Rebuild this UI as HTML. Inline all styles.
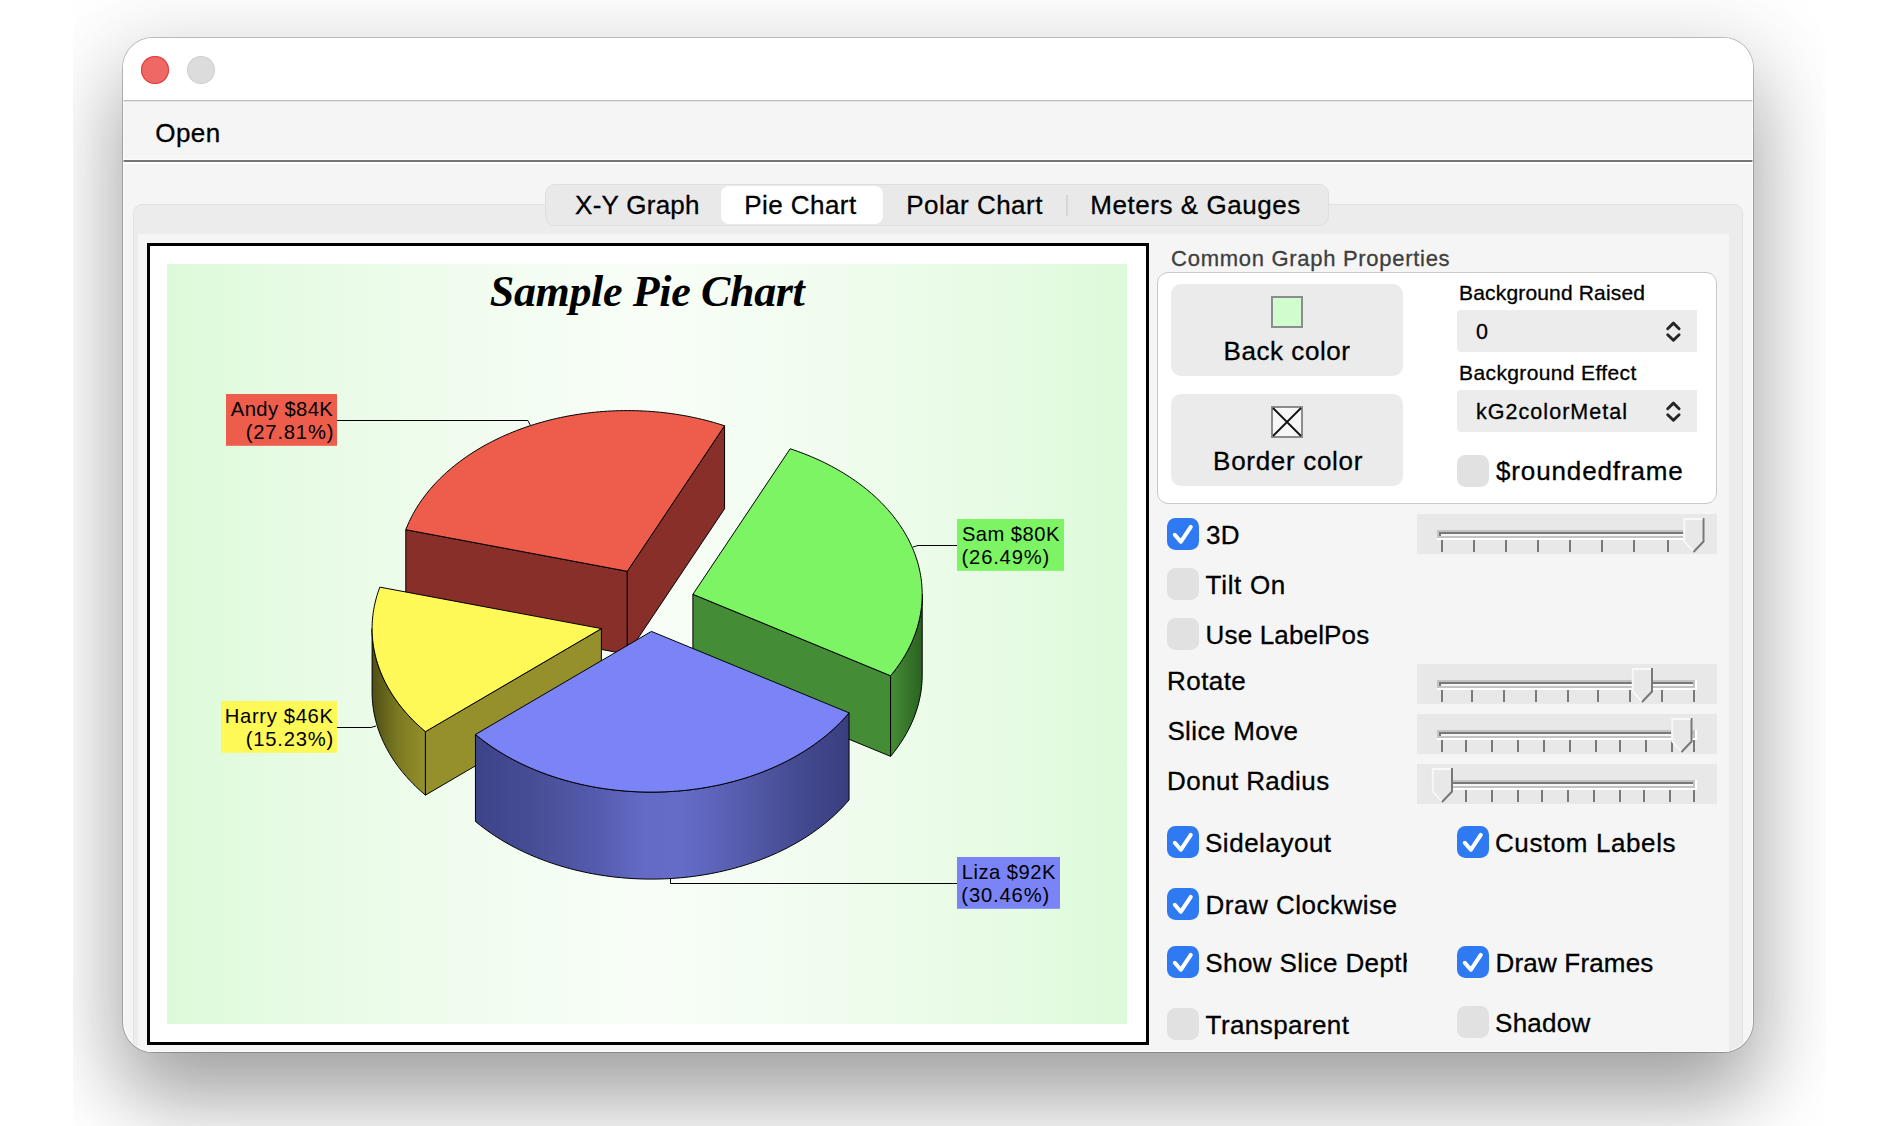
<!DOCTYPE html>
<html><head><meta charset="utf-8"><title>Pie Chart</title>
<style>
html,body{margin:0;padding:0;background:#fff;}
body{width:1900px;height:1126px;position:relative;overflow:hidden;font-family:"Liberation Sans",sans-serif;}
.abs{position:absolute;display:block}
#clip{position:absolute;left:73px;top:0;width:1753px;height:1126px;overflow:hidden}
#win{position:absolute;left:50px;top:38px;width:1630px;height:1014px;border-radius:30px;background:#f5f5f5;
 box-shadow:0 0 0 1px rgba(0,0,0,.22),0 46px 84px rgba(0,0,0,.34),0 8px 80px 30px rgba(0,0,0,.055);}
#inner{position:absolute;left:0;top:0;width:1630px;height:1014px;border-radius:30px;overflow:hidden}
#page{position:absolute;left:-123px;top:-38px;width:1900px;height:1126px}
.t{position:absolute;white-space:nowrap;line-height:normal;-webkit-text-stroke:0.3px currentColor}
.cb{position:absolute;width:32px;height:32px;border-radius:8.5px;background:#e1e1e1;box-sizing:border-box}
.cb.on{background:#2f79f2}
.cb svg{display:block}
.lb{font-family:"Liberation Sans",sans-serif;font-size:20px;fill:#000}
.ttl{font-family:"Liberation Serif",serif;font-size:44px;font-weight:bold;font-style:italic;fill:#000}
.btn{position:absolute;background:#ebebeb;border-radius:10px}
.pop{position:absolute;background:#ececec;border-radius:4px 0 0 4px}
</style></head><body>
<div id="clip"><div id="win"><div id="inner"><div id="page">
<div class="abs" style="left:123px;top:37px;width:1630px;height:63px;background:#fff"></div>
<div class="abs" style="left:123px;top:100px;width:1630px;height:1px;background:#bdbdbd"></div><div class="abs" style="left:123px;top:101px;width:1630px;height:1px;background:#e4e4e4"></div>
<div class="abs" style="left:141px;top:56px;width:28px;height:28px;border-radius:50%;background:#ee6865;box-shadow:inset 0 0 0 1px rgba(228,40,44,.75)"></div>
<div class="abs" style="left:187px;top:56px;width:28px;height:28px;border-radius:50%;background:#dcdcdc;box-shadow:inset 0 0 0 1px rgba(0,0,0,.06)"></div>
<div class="abs" style="left:123px;top:159px;width:1630px;height:1px;background:#fcfcfc"></div><div class="abs" style="left:123px;top:160px;width:1630px;height:2px;background:#757575"></div><div class="abs" style="left:123px;top:162px;width:1630px;height:2px;background:#fff"></div>
<!-- tab content box -->
<div class="abs" style="left:133px;top:204px;width:1610px;height:900px;border-radius:9px;background:#ececec;box-sizing:border-box;border:1px solid #e2e2e2"></div>
<div class="abs" style="left:138px;top:234px;width:1591px;height:900px;background:#f5f5f5"></div>
<!-- segmented -->
<div class="abs" style="left:545px;top:184px;width:784px;height:42px;border-radius:10px;background:#e9e9e9;box-sizing:border-box;border:1px solid #dfdfdf"></div>
<div class="abs" style="left:721px;top:186px;width:162px;height:38px;border-radius:8px;background:#fff"></div>
<div class="abs" style="left:1066px;top:194.5px;width:2px;height:21px;background:#d6d6d6"></div>
<!-- chart -->
<div class="abs" style="left:147px;top:243px;width:1002px;height:802px;box-sizing:border-box;border:3px solid #000;background:#fff"></div>
<div class="abs" style="left:167px;top:264px;width:960px;height:760px;background:linear-gradient(90deg,#dcfad9 0%,#e6fbe3 12%,#f0fcee 30%,#f8fef7 50%,#f0fcee 70%,#e6fbe3 88%,#dcfad9 100%)"></div>
<svg class="abs" style="left:0;top:0" width="1900" height="1126" viewBox="0 0 1900 1126">
<defs><linearGradient id="gG" gradientUnits="userSpaceOnUse" x1="890" y1="0" x2="923" y2="0"><stop offset="0" stop-color="#468e37"/><stop offset="1" stop-color="#2a6120"/></linearGradient><linearGradient id="gB" gradientUnits="userSpaceOnUse" x1="475" y1="0" x2="850" y2="0"><stop offset="0" stop-color="#3d4389"/><stop offset="0.15" stop-color="#474d95"/><stop offset="0.33" stop-color="#555cae"/><stop offset="0.45" stop-color="#636bc6"/><stop offset="0.55" stop-color="#646cc8"/><stop offset="0.68" stop-color="#5960b3"/><stop offset="0.85" stop-color="#464c93"/><stop offset="1" stop-color="#393e7e"/></linearGradient><linearGradient id="gY" gradientUnits="userSpaceOnUse" x1="371" y1="0" x2="426" y2="0"><stop offset="0" stop-color="#4e4d14"/><stop offset="0.5" stop-color="#7c7a22"/><stop offset="1" stop-color="#96912c"/></linearGradient><linearGradient id="gR" gradientUnits="userSpaceOnUse" x1="0" y1="0" x2="1" y2="0"><stop offset="0" stop-color="#8a2f29"/><stop offset="1" stop-color="#8a2f29"/></linearGradient></defs>
<path d="M627.30,571.30 L405.81,529.71 L405.81,612.71 L627.30,654.30 Z" fill="#892f29" stroke="#000" stroke-width="1" stroke-linejoin="round"/>
<path d="M627.30,571.30 L724.57,425.78 L724.57,508.78 L627.30,654.30 Z" fill="#892f29" stroke="#000" stroke-width="1" stroke-linejoin="round"/>
<path d="M627.30,571.30 L405.81,529.71 L406.88,527.00 L408.02,524.31 L409.23,521.63 L410.50,518.97 L411.84,516.32 L413.24,513.69 L414.71,511.08 L416.24,508.49 L417.84,505.91 L419.50,503.36 L421.23,500.83 L423.01,498.31 L424.86,495.82 L426.78,493.36 L428.75,490.91 L430.78,488.49 L432.88,486.10 L435.03,483.73 L437.24,481.39 L439.51,479.08 L441.84,476.80 L444.23,474.54 L446.67,472.31 L449.16,470.12 L451.71,467.95 L454.31,465.82 L456.97,463.71 L459.68,461.65 L462.44,459.61 L465.25,457.61 L468.10,455.64 L471.01,453.71 L473.97,451.81 L476.97,449.96 L480.02,448.13 L483.11,446.35 L486.25,444.60 L489.43,442.90 L492.65,441.23 L495.91,439.60 L499.21,438.01 L502.56,436.46 L505.94,434.95 L509.35,433.49 L512.81,432.07 L516.29,430.69 L519.82,429.35 L523.37,428.05 L526.96,426.80 L530.58,425.60 L534.22,424.44 L537.90,423.32 L541.60,422.25 L545.33,421.22 L549.08,420.24 L552.86,419.30 L556.66,418.42 L560.48,417.57 L564.32,416.78 L568.18,416.03 L572.06,415.33 L575.96,414.68 L579.87,414.08 L583.80,413.52 L587.74,413.01 L591.69,412.55 L595.65,412.14 L599.63,411.77 L603.61,411.46 L607.59,411.19 L611.59,410.98 L615.59,410.81 L619.59,410.69 L623.59,410.62 L627.60,410.60 L631.61,410.63 L635.61,410.71 L639.61,410.83 L643.61,411.01 L647.60,411.23 L651.59,411.50 L655.57,411.83 L659.54,412.20 L663.50,412.62 L667.45,413.08 L671.39,413.60 L675.31,414.16 L679.22,414.77 L683.12,415.43 L687.00,416.14 L690.85,416.90 L694.69,417.70 L698.51,418.55 L702.31,419.44 L706.08,420.38 L709.83,421.37 L713.56,422.40 L717.26,423.48 L720.93,424.61 L724.57,425.78 Z" fill="#ee5c4c" stroke="#000" stroke-width="1" stroke-linejoin="round"/>
<path d="M922.20,594.30 L922.16,597.15 L922.06,599.99 L921.88,602.84 L921.62,605.68 L921.30,608.52 L920.91,611.35 L920.44,614.18 L919.90,617.01 L919.29,619.82 L918.61,622.63 L917.86,625.43 L917.03,628.22 L916.14,630.99 L915.18,633.76 L914.15,636.51 L913.04,639.26 L911.87,641.98 L910.63,644.69 L909.33,647.39 L907.95,650.07 L906.50,652.73 L904.99,655.38 L903.42,658.00 L901.77,660.60 L900.06,663.19 L898.29,665.75 L896.45,668.29 L894.55,670.81 L892.58,673.30 L890.55,675.76 L890.55,756.36 L892.58,753.90 L894.55,751.41 L896.45,748.89 L898.29,746.35 L900.06,743.79 L901.77,741.20 L903.42,738.60 L904.99,735.98 L906.50,733.33 L907.95,730.67 L909.33,727.99 L910.63,725.29 L911.87,722.58 L913.04,719.86 L914.15,717.11 L915.18,714.36 L916.14,711.59 L917.03,708.82 L917.86,706.03 L918.61,703.23 L919.29,700.42 L919.90,697.61 L920.44,694.78 L920.91,691.95 L921.30,689.12 L921.62,686.28 L921.88,683.44 L922.06,680.59 L922.16,677.75 L922.20,674.90 Z" fill="url(#gG)" stroke="#000" stroke-width="1" stroke-linejoin="round"/>
<path d="M692.90,594.30 L890.55,675.76 L890.55,756.36 L692.90,674.90 Z" fill="#448c36" stroke="#000" stroke-width="1" stroke-linejoin="round"/>
<path d="M692.90,594.30 L790.17,448.78 L793.79,449.99 L797.38,451.25 L800.94,452.56 L804.47,453.91 L807.96,455.30 L811.42,456.73 L814.84,458.21 L818.22,459.73 L821.57,461.28 L824.87,462.88 L828.14,464.52 L831.36,466.21 L834.54,467.92 L837.68,469.68 L840.77,471.48 L843.82,473.31 L846.82,475.19 L849.77,477.09 L852.68,479.04 L855.54,481.02 L858.34,483.03 L861.10,485.08 L863.80,487.16 L866.46,489.28 L869.05,491.42 L871.60,493.60 L874.09,495.81 L876.52,498.05 L878.90,500.32 L881.22,502.62 L883.48,504.94 L885.69,507.30 L887.83,509.68 L889.92,512.08 L891.94,514.52 L893.91,516.97 L895.81,519.45 L897.65,521.95 L899.43,524.48 L901.14,527.03 L902.79,529.59 L904.37,532.18 L905.90,534.79 L907.35,537.41 L908.74,540.05 L910.06,542.71 L911.32,545.38 L912.51,548.07 L913.63,550.78 L914.68,553.49 L915.67,556.22 L916.59,558.96 L917.44,561.71 L918.22,564.48 L918.93,567.25 L919.57,570.03 L920.14,572.81 L920.64,575.61 L921.08,578.41 L921.44,581.21 L921.73,584.02 L921.95,586.83 L922.10,589.64 L922.18,592.46 L922.20,595.27 L922.14,598.09 L922.01,600.90 L921.81,603.71 L921.54,606.52 L921.20,609.33 L920.78,612.13 L920.30,614.92 L919.75,617.71 L919.13,620.49 L918.44,623.27 L917.69,626.03 L916.86,628.79 L915.96,631.53 L915.00,634.26 L913.96,636.98 L912.86,639.69 L911.69,642.38 L910.46,645.06 L909.16,647.73 L907.79,650.37 L906.35,653.00 L904.85,655.61 L903.29,658.21 L901.66,660.78 L899.96,663.33 L898.21,665.87 L896.39,668.38 L894.50,670.86 L892.56,673.33 L890.55,675.76 Z" fill="#7cf463" stroke="#000" stroke-width="1" stroke-linejoin="round"/>
<path d="M425.44,731.64 L422.84,729.42 L420.30,727.17 L417.82,724.89 L415.40,722.58 L413.04,720.24 L410.73,717.87 L408.49,715.47 L406.31,713.04 L404.19,710.59 L402.13,708.11 L400.14,705.60 L398.21,703.07 L396.35,700.52 L394.55,697.95 L392.81,695.35 L391.15,692.73 L389.55,690.09 L388.02,687.43 L386.55,684.75 L385.16,682.05 L383.83,679.34 L382.57,676.61 L381.39,673.87 L380.27,671.11 L379.22,668.34 L378.24,665.55 L377.34,662.75 L376.50,659.95 L375.74,657.13 L375.05,654.30 L374.43,651.47 L373.89,648.62 L373.41,645.78 L373.01,642.92 L372.68,640.06 L372.43,637.20 L372.25,634.33 L372.14,631.47 L372.10,628.60 L372.10,692.10 L372.14,694.97 L372.25,697.83 L372.43,700.70 L372.68,703.56 L373.01,706.42 L373.41,709.28 L373.89,712.12 L374.43,714.97 L375.05,717.80 L375.74,720.63 L376.50,723.45 L377.34,726.25 L378.24,729.05 L379.22,731.84 L380.27,734.61 L381.39,737.37 L382.57,740.11 L383.83,742.84 L385.16,745.55 L386.55,748.25 L388.02,750.93 L389.55,753.59 L391.15,756.23 L392.81,758.85 L394.55,761.45 L396.35,764.02 L398.21,766.57 L400.14,769.10 L402.13,771.61 L404.19,774.09 L406.31,776.54 L408.49,778.97 L410.73,781.37 L413.04,783.74 L415.40,786.08 L417.82,788.39 L420.30,790.67 L422.84,792.92 L425.44,795.14 Z" fill="url(#gY)" stroke="#000" stroke-width="1" stroke-linejoin="round"/>
<path d="M601.40,628.60 L425.44,731.64 L425.44,795.14 L601.40,692.10 Z" fill="#95902b" stroke="#000" stroke-width="1" stroke-linejoin="round"/>
<path d="M601.40,628.60 L425.44,731.64 L422.86,729.44 L420.34,727.20 L417.87,724.94 L415.47,722.64 L413.12,720.32 L410.83,717.97 L408.60,715.59 L406.43,713.18 L404.32,710.74 L402.27,708.28 L400.29,705.80 L398.37,703.29 L396.51,700.76 L394.72,698.20 L392.99,695.62 L391.33,693.02 L389.74,690.40 L388.21,687.77 L386.74,685.11 L385.35,682.43 L384.02,679.74 L382.76,677.04 L381.57,674.31 L380.45,671.58 L379.40,668.82 L378.42,666.06 L377.51,663.29 L376.66,660.50 L375.89,657.70 L375.19,654.90 L374.56,652.09 L374.00,649.26 L373.52,646.44 L373.10,643.60 L372.76,640.77 L372.49,637.93 L372.29,635.08 L372.16,632.23 L372.10,629.39 L372.12,626.54 L372.21,623.69 L372.37,620.85 L372.60,618.00 L372.90,615.16 L373.28,612.33 L373.73,609.50 L374.24,606.67 L374.83,603.86 L375.50,601.05 L376.23,598.24 L377.03,595.45 L377.90,592.67 L378.85,589.90 L379.86,587.14 Z" fill="#fef956" stroke="#000" stroke-width="1" stroke-linejoin="round"/>
<path d="M849.05,712.86 L846.98,715.28 L844.85,717.68 L842.66,720.05 L840.41,722.39 L838.10,724.70 L835.73,726.98 L833.31,729.23 L830.83,731.46 L828.30,733.65 L825.71,735.81 L823.06,737.94 L820.37,740.03 L817.62,742.10 L814.82,744.13 L811.97,746.12 L809.07,748.08 L806.13,750.00 L803.13,751.89 L800.09,753.73 L797.00,755.54 L793.87,757.32 L790.69,759.05 L787.47,760.75 L784.21,762.40 L780.91,764.01 L777.57,765.59 L774.19,767.12 L770.77,768.61 L767.31,770.06 L763.82,771.46 L760.29,772.82 L756.73,774.14 L753.14,775.42 L749.52,776.65 L745.86,777.83 L742.18,778.97 L738.47,780.06 L734.73,781.11 L730.97,782.12 L727.18,783.07 L723.37,783.98 L719.53,784.84 L715.68,785.66 L711.80,786.42 L707.91,787.14 L704.00,787.81 L700.07,788.44 L696.13,789.01 L692.18,789.54 L688.21,790.02 L684.23,790.44 L680.24,790.82 L676.24,791.15 L672.23,791.44 L668.22,791.67 L664.20,791.85 L660.18,791.98 L656.16,792.07 L652.13,792.10 L648.11,792.08 L644.08,792.02 L640.06,791.90 L636.04,791.74 L632.02,791.53 L628.01,791.26 L624.01,790.95 L620.02,790.59 L616.04,790.18 L612.06,789.72 L608.10,789.21 L604.16,788.65 L600.22,788.05 L596.31,787.39 L592.41,786.69 L588.53,785.94 L584.66,785.14 L580.82,784.30 L577.00,783.41 L573.21,782.47 L569.43,781.48 L565.69,780.45 L561.97,779.37 L558.27,778.25 L554.61,777.08 L550.97,775.87 L547.37,774.61 L543.80,773.31 L540.26,771.96 L536.75,770.57 L533.28,769.14 L529.85,767.66 L526.46,766.15 L523.10,764.59 L519.78,762.99 L516.51,761.35 L513.27,759.67 L510.08,757.95 L506.93,756.19 L503.83,754.40 L500.77,752.56 L497.76,750.69 L494.79,748.78 L491.87,746.83 L489.01,744.85 L486.19,742.84 L483.42,740.79 L480.71,738.70 L478.05,736.59 L475.44,734.44 L475.44,821.44 L478.05,823.59 L480.71,825.70 L483.42,827.79 L486.19,829.84 L489.01,831.85 L491.87,833.83 L494.79,835.78 L497.76,837.69 L500.77,839.56 L503.83,841.40 L506.93,843.19 L510.08,844.95 L513.27,846.67 L516.51,848.35 L519.78,849.99 L523.10,851.59 L526.46,853.15 L529.85,854.66 L533.28,856.14 L536.75,857.57 L540.26,858.96 L543.80,860.31 L547.37,861.61 L550.97,862.87 L554.61,864.08 L558.27,865.25 L561.97,866.37 L565.69,867.45 L569.43,868.48 L573.21,869.47 L577.00,870.41 L580.82,871.30 L584.66,872.14 L588.53,872.94 L592.41,873.69 L596.31,874.39 L600.22,875.05 L604.16,875.65 L608.10,876.21 L612.06,876.72 L616.04,877.18 L620.02,877.59 L624.01,877.95 L628.01,878.26 L632.02,878.53 L636.04,878.74 L640.06,878.90 L644.08,879.02 L648.11,879.08 L652.13,879.10 L656.16,879.07 L660.18,878.98 L664.20,878.85 L668.22,878.67 L672.23,878.44 L676.24,878.15 L680.24,877.82 L684.23,877.44 L688.21,877.02 L692.18,876.54 L696.13,876.01 L700.07,875.44 L704.00,874.81 L707.91,874.14 L711.80,873.42 L715.68,872.66 L719.53,871.84 L723.37,870.98 L727.18,870.07 L730.97,869.12 L734.73,868.11 L738.47,867.06 L742.18,865.97 L745.86,864.83 L749.52,863.65 L753.14,862.42 L756.73,861.14 L760.29,859.82 L763.82,858.46 L767.31,857.06 L770.77,855.61 L774.19,854.12 L777.57,852.59 L780.91,851.01 L784.21,849.40 L787.47,847.75 L790.69,846.05 L793.87,844.32 L797.00,842.54 L800.09,840.73 L803.13,838.89 L806.13,837.00 L809.07,835.08 L811.97,833.12 L814.82,831.13 L817.62,829.10 L820.37,827.03 L823.06,824.94 L825.71,822.81 L828.30,820.65 L830.83,818.46 L833.31,816.23 L835.73,813.98 L838.10,811.70 L840.41,809.39 L842.66,807.05 L844.85,804.68 L846.98,802.28 L849.05,799.86 Z" fill="url(#gB)" stroke="#000" stroke-width="1" stroke-linejoin="round"/>
<path d="M651.40,631.40 L849.05,712.86 L846.98,715.28 L844.85,717.68 L842.66,720.05 L840.41,722.39 L838.10,724.70 L835.73,726.98 L833.31,729.23 L830.83,731.46 L828.30,733.65 L825.71,735.81 L823.06,737.94 L820.37,740.03 L817.62,742.10 L814.82,744.13 L811.97,746.12 L809.07,748.08 L806.13,750.00 L803.13,751.89 L800.09,753.73 L797.00,755.54 L793.87,757.32 L790.69,759.05 L787.47,760.75 L784.21,762.40 L780.91,764.01 L777.57,765.59 L774.19,767.12 L770.77,768.61 L767.31,770.06 L763.82,771.46 L760.29,772.82 L756.73,774.14 L753.14,775.42 L749.52,776.65 L745.86,777.83 L742.18,778.97 L738.47,780.06 L734.73,781.11 L730.97,782.12 L727.18,783.07 L723.37,783.98 L719.53,784.84 L715.68,785.66 L711.80,786.42 L707.91,787.14 L704.00,787.81 L700.07,788.44 L696.13,789.01 L692.18,789.54 L688.21,790.02 L684.23,790.44 L680.24,790.82 L676.24,791.15 L672.23,791.44 L668.22,791.67 L664.20,791.85 L660.18,791.98 L656.16,792.07 L652.13,792.10 L648.11,792.08 L644.08,792.02 L640.06,791.90 L636.04,791.74 L632.02,791.53 L628.01,791.26 L624.01,790.95 L620.02,790.59 L616.04,790.18 L612.06,789.72 L608.10,789.21 L604.16,788.65 L600.22,788.05 L596.31,787.39 L592.41,786.69 L588.53,785.94 L584.66,785.14 L580.82,784.30 L577.00,783.41 L573.21,782.47 L569.43,781.48 L565.69,780.45 L561.97,779.37 L558.27,778.25 L554.61,777.08 L550.97,775.87 L547.37,774.61 L543.80,773.31 L540.26,771.96 L536.75,770.57 L533.28,769.14 L529.85,767.66 L526.46,766.15 L523.10,764.59 L519.78,762.99 L516.51,761.35 L513.27,759.67 L510.08,757.95 L506.93,756.19 L503.83,754.40 L500.77,752.56 L497.76,750.69 L494.79,748.78 L491.87,746.83 L489.01,744.85 L486.19,742.84 L483.42,740.79 L480.71,738.70 L478.05,736.59 L475.44,734.44 Z" fill="#7b84f6" stroke="#000" stroke-width="1" stroke-linejoin="round"/>
<g fill="none" stroke="#000" stroke-width="1"><path d="M337,420.5 L527.8,420.5 L530.5,425.5"/><path d="M957,545.5 L918,545.5 L913,547"/><path d="M337,727.5 L371,727.5 L376,726"/><path d="M670.5,878 L670.5,883.5 L957,883.5"/></g>
<rect x="226" y="394" width="111" height="51.8" fill="#ee5c4c"/><text x="230.86" y="415.6" class="lb" style="font-size:20.2px;letter-spacing:0.39px">Andy $84K</text><text x="245.75" y="439.3" class="lb" style="font-size:20.2px;letter-spacing:0.82px">(27.81%)</text>
<rect x="957" y="519" width="107" height="51.8" fill="#7cf463"/><text x="961.88" y="540.6" class="lb" style="font-size:20.2px;letter-spacing:0.46px">Sam $80K</text><text x="961.55" y="564.3" class="lb" style="font-size:20.2px;letter-spacing:0.82px">(26.49%)</text>
<rect x="221" y="701" width="116" height="51.8" fill="#fef956"/><text x="224.84" y="722.6" class="lb" style="font-size:20.2px;letter-spacing:0.67px">Harry $46K</text><text x="245.65" y="746.3" class="lb" style="font-size:20.2px;letter-spacing:0.82px">(15.23%)</text>
<rect x="957" y="857" width="103" height="51.8" fill="#7b84f6"/><text x="961.84" y="878.6" class="lb" style="font-size:20.2px;letter-spacing:0.48px">Liza $92K</text><text x="961.35" y="902.3" class="lb" style="font-size:20.2px;letter-spacing:0.85px">(30.46%)</text>
<text x="647.3" y="306.2" text-anchor="middle" class="ttl" textLength="315" lengthAdjust="spacing">Sample Pie Chart</text>

</svg>
<!-- group box -->
<div class="abs" style="left:1157px;top:272px;width:560px;height:232px;border-radius:11px;background:#fff;box-sizing:border-box;border:1px solid #c9c9c9"></div>
<div class="btn" style="left:1171px;top:284px;width:232px;height:92px"></div>
<div class="btn" style="left:1171px;top:394px;width:232px;height:92px"></div>
<div class="abs" style="left:1271px;top:296px;width:32px;height:32px;box-sizing:border-box;border:2px solid #8c8c8c;background:#d1fdce"></div>
<svg class="abs" style="left:1271px;top:406px" width="32" height="32" viewBox="0 0 32 32"><rect x="1" y="1" width="30" height="30" fill="#f7f7f7" stroke="#8c8c8c" stroke-width="2"/><path d="M2,2 L30,30 M30,2 L2,30" stroke="#111" stroke-width="1.8" fill="none"/></svg>
<div class="pop" style="left:1457px;top:310px;width:240px;height:42px"></div>
<div class="pop" style="left:1457px;top:390px;width:240px;height:42px"></div>
<svg class="abs" style="left:1665px;top:320px" width="17" height="23" viewBox="0 0 17 23"><path d="M2.7,8.7 L8.4,3.1 L14.1,8.7 M2.7,14.7 L8.4,20.3 L14.1,14.7" fill="none" stroke="#262626" stroke-width="2.9" stroke-linecap="round" stroke-linejoin="round"/></svg>
<svg class="abs" style="left:1665px;top:400px" width="17" height="23" viewBox="0 0 17 23"><path d="M2.7,8.7 L8.4,3.1 L14.1,8.7 M2.7,14.7 L8.4,20.3 L14.1,14.7" fill="none" stroke="#262626" stroke-width="2.9" stroke-linecap="round" stroke-linejoin="round"/></svg>
<div class="cb" style="left:1457px;top:454.5px"></div>
<div class="cb on" style="left:1167px;top:518px"><svg width="32" height="32" viewBox="0 0 32 32"><path d="M7.8,16.8 L13.8,23.8 L23.8,8.8" fill="none" stroke="#fff" stroke-width="4" stroke-linecap="round" stroke-linejoin="round"/></svg></div>
<div class="cb" style="left:1167px;top:568px"></div>
<div class="cb" style="left:1167px;top:618px"></div>
<div class="cb on" style="left:1167px;top:826px"><svg width="32" height="32" viewBox="0 0 32 32"><path d="M7.8,16.8 L13.8,23.8 L23.8,8.8" fill="none" stroke="#fff" stroke-width="4" stroke-linecap="round" stroke-linejoin="round"/></svg></div>
<div class="cb on" style="left:1457px;top:826px"><svg width="32" height="32" viewBox="0 0 32 32"><path d="M7.8,16.8 L13.8,23.8 L23.8,8.8" fill="none" stroke="#fff" stroke-width="4" stroke-linecap="round" stroke-linejoin="round"/></svg></div>
<div class="cb on" style="left:1167px;top:888px"><svg width="32" height="32" viewBox="0 0 32 32"><path d="M7.8,16.8 L13.8,23.8 L23.8,8.8" fill="none" stroke="#fff" stroke-width="4" stroke-linecap="round" stroke-linejoin="round"/></svg></div>
<div class="cb on" style="left:1167px;top:946px"><svg width="32" height="32" viewBox="0 0 32 32"><path d="M7.8,16.8 L13.8,23.8 L23.8,8.8" fill="none" stroke="#fff" stroke-width="4" stroke-linecap="round" stroke-linejoin="round"/></svg></div>
<div class="cb on" style="left:1457px;top:946px"><svg width="32" height="32" viewBox="0 0 32 32"><path d="M7.8,16.8 L13.8,23.8 L23.8,8.8" fill="none" stroke="#fff" stroke-width="4" stroke-linecap="round" stroke-linejoin="round"/></svg></div>
<div class="cb" style="left:1167px;top:1008px"></div>
<div class="cb" style="left:1457px;top:1006px"></div>

<svg class="abs" style="left:1417px;top:514px" width="300" height="40" viewBox="1417 514 300 40" shape-rendering="crispEdges"><rect x="1417" y="514" width="300" height="40" fill="#e8e8e8"/><rect x="1437" y="530" width="260" height="10" fill="#fff"/><rect x="1437" y="530" width="258" height="8" fill="#c3c3c3"/><rect x="1439" y="532" width="254" height="4" fill="#787878"/><rect x="1441" y="534" width="252" height="2" fill="#f6f6f6"/><rect x="1441" y="540" width="2" height="12" fill="#787878"/><rect x="1473" y="540" width="2" height="12" fill="#787878"/><rect x="1505" y="540" width="2" height="12" fill="#787878"/><rect x="1537" y="540" width="2" height="12" fill="#787878"/><rect x="1569" y="540" width="2" height="12" fill="#787878"/><rect x="1601" y="540" width="2" height="12" fill="#787878"/><rect x="1633" y="540" width="2" height="12" fill="#787878"/><rect x="1667" y="540" width="2" height="12" fill="#787878"/><rect x="1693" y="540" width="2" height="12" fill="#787878"/><g shape-rendering="geometricPrecision"><path d="M1683.3,518 L1704.5,518 L1704.5,541 L1693.5,552.5 L1683.3,541 Z" fill="#e8e8e8"/><path d="M1703.5,518 L1703.5,541.5 L1693.5,552" fill="none" stroke="#787878" stroke-width="2"/><path d="M1702.5,519 L1684.3,519 L1684.3,541.5 L1693.0,551" fill="none" stroke="#f8f8f8" stroke-width="1.8"/></g></svg>
<svg class="abs" style="left:1417px;top:664px" width="300" height="40" viewBox="1417 664 300 40" shape-rendering="crispEdges"><rect x="1417" y="664" width="300" height="40" fill="#e8e8e8"/><rect x="1437" y="680" width="260" height="10" fill="#fff"/><rect x="1437" y="680" width="258" height="8" fill="#c3c3c3"/><rect x="1439" y="682" width="254" height="4" fill="#787878"/><rect x="1441" y="684" width="252" height="2" fill="#f6f6f6"/><rect x="1441" y="690" width="2" height="12" fill="#787878"/><rect x="1471" y="690" width="2" height="12" fill="#787878"/><rect x="1503" y="690" width="2" height="12" fill="#787878"/><rect x="1535" y="690" width="2" height="12" fill="#787878"/><rect x="1567" y="690" width="2" height="12" fill="#787878"/><rect x="1597" y="690" width="2" height="12" fill="#787878"/><rect x="1629" y="690" width="2" height="12" fill="#787878"/><rect x="1661" y="690" width="2" height="12" fill="#787878"/><rect x="1693" y="690" width="2" height="12" fill="#787878"/><g shape-rendering="geometricPrecision"><path d="M1631.8,668 L1653,668 L1653,691 L1642,702.5 L1631.8,691 Z" fill="#e8e8e8"/><path d="M1652,668 L1652,691.5 L1642,702" fill="none" stroke="#787878" stroke-width="2"/><path d="M1651,669 L1632.8,669 L1632.8,691.5 L1641.5,701" fill="none" stroke="#f8f8f8" stroke-width="1.8"/></g></svg>
<svg class="abs" style="left:1417px;top:714px" width="300" height="40" viewBox="1417 714 300 40" shape-rendering="crispEdges"><rect x="1417" y="714" width="300" height="40" fill="#e8e8e8"/><rect x="1437" y="730" width="260" height="10" fill="#fff"/><rect x="1437" y="730" width="258" height="8" fill="#c3c3c3"/><rect x="1439" y="732" width="254" height="4" fill="#787878"/><rect x="1441" y="734" width="252" height="2" fill="#f6f6f6"/><rect x="1441" y="740" width="2" height="12" fill="#787878"/><rect x="1465" y="740" width="2" height="12" fill="#787878"/><rect x="1491" y="740" width="2" height="12" fill="#787878"/><rect x="1517" y="740" width="2" height="12" fill="#787878"/><rect x="1543" y="740" width="2" height="12" fill="#787878"/><rect x="1569" y="740" width="2" height="12" fill="#787878"/><rect x="1595" y="740" width="2" height="12" fill="#787878"/><rect x="1619" y="740" width="2" height="12" fill="#787878"/><rect x="1645" y="740" width="2" height="12" fill="#787878"/><rect x="1671" y="740" width="2" height="12" fill="#787878"/><rect x="1693" y="740" width="2" height="12" fill="#787878"/><g shape-rendering="geometricPrecision"><path d="M1671.3,718 L1692.5,718 L1692.5,741 L1681.5,752.5 L1671.3,741 Z" fill="#e8e8e8"/><path d="M1691.5,718 L1691.5,741.5 L1681.5,752" fill="none" stroke="#787878" stroke-width="2"/><path d="M1690.5,719 L1672.3,719 L1672.3,741.5 L1681.0,751" fill="none" stroke="#f8f8f8" stroke-width="1.8"/></g></svg>
<svg class="abs" style="left:1417px;top:764px" width="300" height="40" viewBox="1417 764 300 40" shape-rendering="crispEdges"><rect x="1417" y="764" width="300" height="40" fill="#e8e8e8"/><rect x="1437" y="780" width="260" height="10" fill="#fff"/><rect x="1437" y="780" width="258" height="8" fill="#c3c3c3"/><rect x="1439" y="782" width="254" height="4" fill="#787878"/><rect x="1441" y="784" width="252" height="2" fill="#f6f6f6"/><rect x="1441" y="790" width="2" height="12" fill="#787878"/><rect x="1465" y="790" width="2" height="12" fill="#787878"/><rect x="1491" y="790" width="2" height="12" fill="#787878"/><rect x="1517" y="790" width="2" height="12" fill="#787878"/><rect x="1541" y="790" width="2" height="12" fill="#787878"/><rect x="1567" y="790" width="2" height="12" fill="#787878"/><rect x="1593" y="790" width="2" height="12" fill="#787878"/><rect x="1619" y="790" width="2" height="12" fill="#787878"/><rect x="1643" y="790" width="2" height="12" fill="#787878"/><rect x="1669" y="790" width="2" height="12" fill="#787878"/><rect x="1693" y="790" width="2" height="12" fill="#787878"/><g shape-rendering="geometricPrecision"><path d="M1431.8,768 L1453,768 L1453,791 L1442,802.5 L1431.8,791 Z" fill="#e8e8e8"/><path d="M1452,768 L1452,791.5 L1442,802" fill="none" stroke="#787878" stroke-width="2"/><path d="M1451,769 L1432.8,769 L1432.8,791.5 L1441.5,801" fill="none" stroke="#f8f8f8" stroke-width="1.8"/></g></svg>

<div class="t " style="left:155.2px;top:118.4px;font-size:26px;letter-spacing:0.50px;color:#000;">Open</div>
<div class="t " style="left:575.1px;top:190.3px;font-size:26px;letter-spacing:0.26px;color:#000;">X-Y Graph</div>
<div class="t " style="left:744.3px;top:190.3px;font-size:26px;letter-spacing:0.43px;color:#000;">Pie Chart</div>
<div class="t " style="left:906.2px;top:190.3px;font-size:26px;letter-spacing:0.47px;color:#000;">Polar Chart</div>
<div class="t " style="left:1090.2px;top:190.3px;font-size:26px;letter-spacing:0.56px;color:#000;">Meters &amp; Gauges</div>
<div class="t " style="left:1171.1px;top:246.1px;font-size:22px;letter-spacing:0.71px;color:#3e3e3e;">Common Graph Properties</div>
<div class="t " style="left:1223.6px;top:336.4px;font-size:26px;letter-spacing:0.55px;color:#000;">Back color</div>
<div class="t " style="left:1213.1px;top:446.3px;font-size:26px;letter-spacing:0.70px;color:#000;">Border color</div>
<div class="t " style="left:1459.1px;top:281.2px;font-size:21px;letter-spacing:0.16px;color:#000;">Background Raised</div>
<div class="t " style="left:1475.9px;top:319.8px;font-size:21.5px;letter-spacing:0.00px;color:#000;">0</div>
<div class="t " style="left:1459.1px;top:361.1px;font-size:21px;letter-spacing:0.37px;color:#000;">Background Effect</div>
<div class="t " style="left:1476.0px;top:399.8px;font-size:21.5px;letter-spacing:1.04px;color:#000;">kG2colorMetal</div>
<div class="t " style="left:1496.0px;top:456.1px;font-size:26px;letter-spacing:0.87px;color:#000;">$roundedframe</div>
<div class="t " style="left:1206.0px;top:519.9px;font-size:26px;letter-spacing:0.30px;color:#000;">3D</div>
<div class="t " style="left:1205.6px;top:570.2px;font-size:26px;letter-spacing:0.68px;color:#000;">Tilt On</div>
<div class="t " style="left:1205.6px;top:620.1px;font-size:26px;letter-spacing:0.16px;color:#000;">Use LabelPos</div>
<div class="t " style="left:1167.1px;top:666.4px;font-size:26px;letter-spacing:0.42px;color:#000;">Rotate</div>
<div class="t " style="left:1167.4px;top:716.3px;font-size:26px;letter-spacing:0.39px;color:#000;">Slice Move</div>
<div class="t " style="left:1167.1px;top:766.2px;font-size:26px;letter-spacing:0.41px;color:#000;">Donut Radius</div>
<div class="t " style="left:1205.0px;top:828.1px;font-size:26px;letter-spacing:0.52px;color:#000;">Sidelayout</div>
<div class="t " style="left:1495.0px;top:828.1px;font-size:26px;letter-spacing:0.59px;color:#000;">Custom Labels</div>
<div class="t " style="left:1205.5px;top:890.1px;font-size:26px;letter-spacing:0.50px;color:#000;">Draw Clockwise</div>
<div class="t" style="left:1205.3px;top:947.8px;font-size:26px;letter-spacing:0.39px;width:201.9px;overflow:hidden">Show Slice Depth</div>
<div class="t " style="left:1495.6px;top:947.8px;font-size:26px;letter-spacing:0.17px;color:#000;">Draw Frames</div>
<div class="t " style="left:1205.6px;top:1009.8px;font-size:26px;letter-spacing:0.41px;color:#000;">Transparent</div>
<div class="t " style="left:1495.1px;top:1007.5px;font-size:26px;letter-spacing:0.23px;color:#000;">Shadow</div>
</div><div class="abs" style="left:0;top:0;width:1630px;height:1014px;border-radius:30px;box-shadow:inset 0 0 0 1px rgba(255,255,255,.55);pointer-events:none"></div></div></div></div>
</body></html>
